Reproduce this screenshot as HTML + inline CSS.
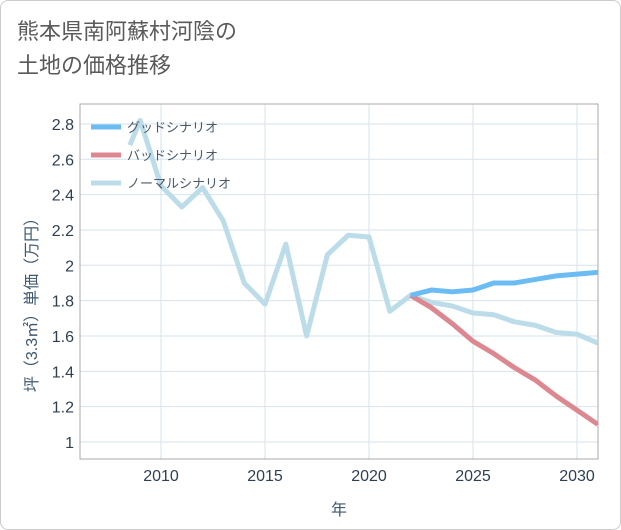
<!DOCTYPE html>
<html><head><meta charset="utf-8"><style>
body{margin:0;background:#fff;font-family:"Liberation Sans","Noto Sans CJK JP",sans-serif;}
#wrap{position:relative;width:619px;height:528px;border:1px solid #ccc;border-radius:8px;background:#fff;overflow:hidden}
#title{position:absolute;left:16px;top:14px;font-size:22px;line-height:34px;color:#5a5a5a;}
</style></head><body>
<div id="wrap">
<div id="title">熊本県南阿蘇村河陰の<br>土地の価格推移</div>
<svg id="chart" width="621" height="530" style="position:absolute;left:0;top:0"></svg>
</div>
<script>
const years=[2008.5,2009,2010,2011,2012,2013,2014,2015,2016,2017,2018,2019,2020,2021,2022,2023,2024,2025,2026,2027,2028,2029,2030,2031];
const normal=[2.68,2.82,2.45,2.33,2.44,2.25,1.90,1.78,2.12,1.60,2.06,2.17,2.16,1.74,1.83,1.79,1.77,1.73,1.72,1.68,1.66,1.62,1.61,1.56];
const fYears=[2022,2023,2024,2025,2026,2027,2028,2029,2030,2031];
const good=[1.83,1.86,1.85,1.86,1.90,1.90,1.92,1.94,1.95,1.96];
const bad=[1.83,1.76,1.67,1.57,1.50,1.42,1.35,1.26,1.18,1.10];
const yTicks=[1,1.2,1.4,1.6,1.8,2,2.2,2.4,2.6,2.8];
const xTicks=[2010,2015,2020,2025,2030];
const L=79,R=597,T=103,B=458;
const X=v=>160+(v-2010)*20.8;
const Y=v=>441-(v-1)*176.7;
const svg=document.getElementById('chart');
const NS='http://www.w3.org/2000/svg';
function mk(t,a,p){const e=document.createElementNS(NS,t);for(const k in a)e.setAttribute(k,a[k]);(p||svg).appendChild(e);return e;}
const cp=mk('clipPath',{id:'cp'});mk('rect',{x:L,y:T,width:R-L,height:B-T},cp);
for(const t of yTicks){const l=mk('line',{x1:L,x2:R,y1:Y(t),y2:Y(t),stroke:'#d5e3ee'});


const tx=mk('text',{x:L-6,y:Y(t)+6,'text-anchor':'end','font-size':16,fill:'#2e3f52'});tx.textContent=t;

}
for(const t of xTicks){const l=mk('line',{x1:X(t),x2:X(t),y1:T,y2:B,stroke:'#d5e3ee'});


const tx=mk('text',{x:X(t),y:B+22,'text-anchor':'middle','font-size':16,fill:'#2e3f52'});tx.textContent=t;

}
const fr=mk('rect',{x:L,y:T,width:R-L,height:B-T,fill:'none',stroke:'#aaa'});


function line(xs,ys,c,name){const p=mk('polyline',{points:xs.map((x,i)=>X(x)+','+Y(ys[i])).join(' '),fill:'none',stroke:c,'stroke-width':5,'stroke-linejoin':'round','clip-path':'url(#cp)'});

}
line(years,normal,'#bcdcea','normal-scenario-line');
line(fYears,bad,'#dd8890','bad-scenario-line');
line(fYears,good,'#6cbcf4','good-scenario-line');
const leg=[['グッドシナリオ','#6cbcf4'],['バッドシナリオ','#dd8890'],['ノーマルシナリオ','#bcdcea']];
leg.forEach((g,i)=>{const y=126+i*28;
const l=mk('line',{x1:90,x2:120,y1:y,y2:y,stroke:g[1],'stroke-width':5});


const t=mk('text',{x:126,y:y+5,'font-size':13,fill:'#4a5a6a'});t.textContent=g[0];

});
const yt=mk('text',{transform:'translate(36,300) rotate(-90)','text-anchor':'middle','font-size':16,fill:'#3e5870'});yt.textContent='坪（3.3㎡）単価（万円）';


const xt=mk('text',{x:338,y:514,'text-anchor':'middle','font-size':16,fill:'#3e5870'});xt.textContent='年';


</script>
</body></html>
